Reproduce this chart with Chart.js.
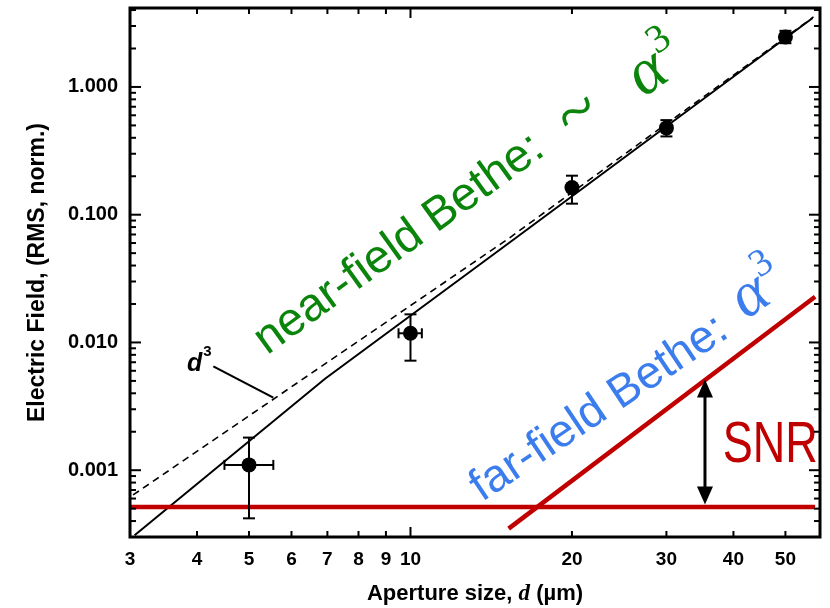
<!DOCTYPE html>
<html>
<head>
<meta charset="utf-8">
<script src="https://cdn.jsdelivr.net/npm/chart.js@4.4.1/dist/chart.umd.min.js"></script>
<style>
  html, body { margin: 0; padding: 0; background: #fff; }
  #wrap { width: 830px; height: 608px; position: relative; }
</style>
</head>
<body>
<div id="wrap"><canvas id="chart"></canvas></div>
<script>
// ---- data ----
// measured points (aperture in µm, field RMS normalised)
const apertureUm = [5, 10, 20, 30, 50];
const fieldRms   = [0.0011, 0.0118, 0.163, 0.478, 2.46];
const fieldLo    = [0.00042, 0.0072, 0.122, 0.41, 2.2];
const fieldHi    = [0.0018, 0.0166, 0.202, 0.55, 2.75];
const apertureLo = [4.5, 9.5, null, null, null];
const apertureHi = [5.55, 10.5, null, null, null];

// solid fit line
const fitX = [3.06, 6.93, 15.55, 56.2];
const fitY = [0.00031, 0.0052, 0.0637, 3.47];
// dashed d^3 line
const d3X = [3.04, 15.13, 56.4];
const d3Y = [0.00064, 0.0637, 3.53];
// leader from the d^3 label
const leaderX = [4.29, 5.55];
const leaderY = [0.0065, 0.0037];
// red noise floor + far-field Bethe line
const noiseX = [3, 56.8];
const noiseY = [0.000516, 0.000516];
const farX = [15.24, 56.8];
const farY = [0.000349, 0.0228];
// SNR arrow
const snrX = [35.4, 35.4];
const snrY = [0.00054, 0.00513];

// axes
const xTicks = [3, 4, 5, 6, 7, 8, 9, 10, 20, 30, 40, 50];
const yMajor = [0.001, 0.01, 0.1, 1];
const yTickLabels = ["0.001", "0.010", "0.100", "1.000"];

const GREEN = "#0b840b";
const BLUE = "#3b7ded";
const RED = "#c00000";
const SANS = "'Liberation Sans', Arial, sans-serif";
const SERIF = "'Liberation Serif', 'Times New Roman', serif";

// annotation texts, anchored in data units
const notes = [
  { text: "near-field Bethe:", x: 5.4, y: 0.0079, angle: 35.8, sx: 1, font: "47px " + SANS, color: GREEN },
  { text: "~", x: 20.6, y: 0.6, angle: 35, sx: 1, font: "72px " + SERIF, color: GREEN, align: "center", base: "middle" },
  { text: "α", sup: "3", x: 27.2, y: 0.82, angle: 35, sx: 1, font: "italic 66px " + SERIF, supFont: "40px " + SERIF, rise: 0.42, color: GREEN },
  { text: "far-field Bethe:", x: 13.6, y: 0.00056, angle: 33.8, sx: 1, font: "46px " + SANS, color: BLUE },
  { text: "α", sup: "3", x: 42.2, y: 0.0150, angle: 34, sx: 1, font: "italic 64px " + SERIF, supFont: "39px " + SERIF, rise: 0.42, color: BLUE },
  { text: "SNR", x: 38.2, y: 0.00116, angle: 0, sx: 0.79, font: "57px " + SANS, color: RED },
  { text: "d", sup: "3", x: 3.83, y: 0.00593, angle: 0, sx: 1, font: "italic bold 25px " + SANS, supFont: "bold 15px " + SANS, rise: 0.6, color: "#000" }
];

function toXY(xs, ys) {
  return xs.map((x, i) => ({ x, y: ys[i] }));
}

function yMinorTicks(min, max) {
  const out = [];
  for (let e = -4; e <= 1; e++) {
    for (let k = 2; k <= 9; k++) {
      const v = k * Math.pow(10, e);
      if (v >= min && v <= max) out.push(v);
    }
  }
  return out;
}

function seg(ctx, x1, y1, x2, y2) {
  ctx.beginPath();
  ctx.moveTo(x1, y1);
  ctx.lineTo(x2, y2);
  ctx.stroke();
}

function drawNote(ctx, n, px, py) {
  ctx.save();
  ctx.translate(px, py);
  ctx.scale(n.sx, 1);
  ctx.rotate(-n.angle * Math.PI / 180);
  ctx.fillStyle = n.color;
  ctx.font = n.font;
  ctx.textAlign = n.align || "left";
  ctx.textBaseline = n.base || "alphabetic";
  ctx.fillText(n.text, 0, 0);
  if (n.sup) {
    const w = ctx.measureText(n.text).width;
    const size = parseFloat(n.font.match(/(\d+)px/)[1]);
    ctx.font = n.supFont;
    ctx.fillText(n.sup, w + 1, -size * n.rise);
  }
  ctx.restore();
}

const figurePlugin = {
  id: "figure",
  afterDatasetsDraw(chart) {
    const { ctx, scales: { x, y } } = chart;
    ctx.save();

    // error bars
    ctx.strokeStyle = "#000";
    ctx.lineWidth = 2;
    apertureUm.forEach((xv, i) => {
      const px = x.getPixelForValue(xv);
      const py = y.getPixelForValue(fieldRms[i]);
      if (fieldLo[i] != null) {
        const lo = y.getPixelForValue(fieldLo[i]);
        const hi = y.getPixelForValue(fieldHi[i]);
        seg(ctx, px, lo, px, hi);
        seg(ctx, px - 6, lo, px + 6, lo);
        seg(ctx, px - 6, hi, px + 6, hi);
      }
      if (apertureLo[i] != null) {
        const l = x.getPixelForValue(apertureLo[i]);
        const r = x.getPixelForValue(apertureHi[i]);
        seg(ctx, l, py, r, py);
        seg(ctx, l, py - 5, l, py + 5);
        seg(ctx, r, py - 5, r, py + 5);
      }
    });

    // SNR arrow
    const ax = x.getPixelForValue(snrX[0]);
    const ay1 = y.getPixelForValue(snrY[0]);
    const ay2 = y.getPixelForValue(snrY[1]);
    ctx.lineWidth = 3;
    seg(ctx, ax, ay1 - 14, ax, ay2 + 14);
    ctx.fillStyle = "#000";
    [[ay2, 1], [ay1, -1]].forEach(([tip, dir]) => {
      ctx.beginPath();
      ctx.moveTo(ax, tip);
      ctx.lineTo(ax - 8, tip + dir * 18);
      ctx.lineTo(ax + 8, tip + dir * 18);
      ctx.closePath();
      ctx.fill();
    });

    // texts
    notes.forEach(n => drawNote(ctx, n, x.getPixelForValue(n.x), y.getPixelForValue(n.y)));
    ctx.restore();
  },
  afterDraw(chart) {
    const { ctx, chartArea: a, scales: { x, y } } = chart;
    ctx.save();
    ctx.strokeStyle = "#000";
    ctx.lineWidth = 2;
    // inward ticks on all four sides
    xTicks.forEach(v => {
      const px = x.getPixelForValue(v);
      const len = v === 10 ? 10 : 6;
      seg(ctx, px, a.bottom, px, a.bottom - len);
      seg(ctx, px, a.top, px, a.top + len);
    });
    const yAll = yMajor.map(v => [v, 11]).concat(yMinorTicks(y.min, y.max).map(v => [v, 6]));
    yAll.forEach(([v, len]) => {
      const py = y.getPixelForValue(v);
      seg(ctx, a.left, py, a.left + len, py);
      seg(ctx, a.right, py, a.right - len, py);
    });
    ctx.lineWidth = 3;
    ctx.strokeRect(a.left, a.top, a.right - a.left, a.bottom - a.top);

    // x title with italic d
    const parts = [
      ["Aperture size, ", "bold 22px " + SANS],
      ["d", "italic bold 23px " + SERIF],
      [" (µm)", "bold 22px " + SANS]
    ];
    let total = 0;
    parts.forEach(p => { ctx.font = p[1]; total += ctx.measureText(p[0]).width; });
    let cx = (a.left + a.right) / 2 - total / 2;
    const by = a.bottom + 63;
    ctx.fillStyle = "#000";
    ctx.textBaseline = "alphabetic";
    parts.forEach(p => {
      ctx.font = p[1];
      ctx.fillText(p[0], cx, by);
      cx += ctx.measureText(p[0]).width;
    });
    ctx.restore();
  }
};

Chart.defaults.font.family = SANS;
Chart.defaults.color = "#000";

new Chart(document.getElementById("chart"), {
  type: "scatter",
  data: {
    datasets: [
      { label: "d3", data: toXY(d3X, d3Y), showLine: true, borderColor: "#000", borderWidth: 1.6, borderDash: [7, 5], pointRadius: 0, order: 6 },
      { label: "fit", data: toXY(fitX, fitY), showLine: true, borderColor: "#000", borderWidth: 2, pointRadius: 0, order: 5 },
      { label: "leader", data: toXY(leaderX, leaderY), showLine: true, borderColor: "#000", borderWidth: 2.2, pointRadius: 0, order: 4 },
      { label: "noise", data: toXY(noiseX, noiseY), showLine: true, borderColor: RED, borderWidth: 4.5, pointRadius: 0, order: 2 },
      { label: "far", data: toXY(farX, farY), showLine: true, borderColor: RED, borderWidth: 4.5, pointRadius: 0, order: 2 },
      { label: "measured", data: toXY(apertureUm, fieldRms), showLine: false, pointRadius: 7.5, pointBackgroundColor: "#000", pointBorderWidth: 0, order: 0 }
    ]
  },
  options: {
    responsive: true,
    maintainAspectRatio: false,
    animation: false,
    devicePixelRatio: 1,
    layout: { padding: { left: 0, right: 10, top: 8, bottom: 0 } },
    plugins: { legend: { display: false }, tooltip: { enabled: false } },
    scales: {
      x: {
        type: "logarithmic",
        min: 3, max: 58,
        bounds: "data",
        grid: { display: false, drawTicks: false },
        border: { display: false },
        afterBuildTicks: s => { s.ticks = xTicks.map(v => ({ value: v })); },
        afterFit: s => { s.height = 71; s.paddingLeft = 0; s.paddingRight = 0; },
        ticks: {
          autoSkip: false, maxRotation: 0, minRotation: 0, padding: 11,
          font: { size: 19, weight: "bold" },
          callback: v => String(v)
        }
      },
      y: {
        type: "logarithmic",
        min: 0.0003, max: 4.15,
        bounds: "data",
        grid: { display: false, drawTicks: false },
        border: { display: false },
        afterBuildTicks: s => { s.ticks = yMajor.map(v => ({ value: v })); },
        afterFit: s => { s.width = 130; s.paddingTop = 0; s.paddingBottom = 0; },
        ticks: {
          autoSkip: false, padding: 12,
          font: { size: 20, weight: "bold" },
          callback: v => yTickLabels[yMajor.indexOf(v)]
        },
        title: {
          display: true,
          text: "Electric Field, (RMS, norm.)",
          font: { size: 23, weight: "bold" },
          padding: { top: 24, bottom: 0 }
        }
      }
    }
  },
  plugins: [figurePlugin]
});
</script>
</body>
</html>
